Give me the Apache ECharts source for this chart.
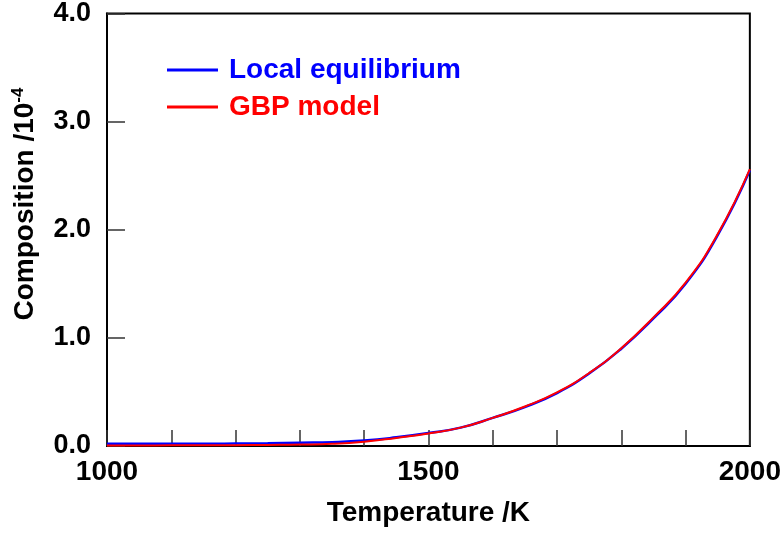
<!DOCTYPE html>
<html>
<head>
<meta charset="utf-8">
<script src="https://cdn.jsdelivr.net/npm/echarts@6/dist/echarts.min.js"></script>
<style>
  html, body { margin: 0; padding: 0; background: #fff; }
  #chart { width: 784px; height: 533px; }
</style>
</head>
<body>
<div id="chart"></div>
<script>
const temperatures = [1000, 1050, 1100, 1150, 1200, 1250, 1300, 1350, 1400, 1450, 1500,
  1550, 1600, 1650, 1700, 1750, 1800, 1850, 1900, 1950, 2000];
const localEquilibrium = [0.02, 0.02, 0.02, 0.02, 0.022, 0.025, 0.03, 0.035, 0.05, 0.08, 0.12,
  0.17, 0.26, 0.36, 0.49, 0.67, 0.9, 1.18, 1.5, 1.95, 2.55];
const gbpModel = [0.005, 0.005, 0.006, 0.007, 0.008, 0.01, 0.013, 0.02, 0.04, 0.075, 0.115,
  0.17, 0.26, 0.365, 0.495, 0.675, 0.905, 1.19, 1.51, 1.96, 2.56];
const xLabelTicks = [1000, 1500, 2000];

const font = "'Liberation Sans', Arial, sans-serif";
const chart = echarts.init(document.getElementById("chart"), null, { renderer: "canvas" });

const pairs = (ys) => temperatures.map((t, i) => [t, ys[i]]);

chart.setOption({
  animation: false,
  grid: {
    left: 107, top: 13, right: 30, bottom: 87,
    show: true, borderColor: "#000", borderWidth: 2
  },
  legend: {
    orient: "vertical",
    left: 162, top: 51,
    itemWidth: 51, itemHeight: 3, itemGap: 9,
    icon: "rect",
    textStyle: { fontFamily: font, fontWeight: "bold", fontSize: 28, lineHeight: 28, padding: [0, 0, 0, 6] },
    data: [
      { name: "Local equilibrium", textStyle: { color: "#0000ff" } },
      { name: "GBP model", textStyle: { color: "#ff0000" } }
    ]
  },
  xAxis: {
    type: "value",
    min: 1000, max: 2000, interval: 100,
    name: "Temperature /K",
    nameLocation: "middle", nameGap: 53,
    nameTextStyle: { fontFamily: font, fontWeight: "bold", fontSize: 28, color: "#000" },
    axisLine: { lineStyle: { color: "#000", width: 2 } },
    axisTick: { inside: true, length: 16, lineStyle: { color: "#333", width: 1.5 } },
    axisLabel: {
      margin: 12, fontFamily: font, fontWeight: "bold", fontSize: 28, color: "#000",
      formatter: (v) => (xLabelTicks.includes(v) ? String(v) : "")
    },
    splitLine: { show: false }
  },
  yAxis: {
    type: "value",
    min: 0, max: 4, interval: 1,
    axisLine: { show: true, lineStyle: { color: "#000", width: 2 } },
    axisTick: { show: true, inside: true, length: 18, lineStyle: { color: "#333", width: 1.5 } },
    axisLabel: {
      margin: 16, fontFamily: font, fontWeight: "bold", fontSize: 27, color: "#000",
      formatter: (v) => v.toFixed(1)
    },
    splitLine: { show: false }
  },
  graphic: [{
    type: "text",
    x: 25, y: 204,
    rotation: Math.PI / 2,
    style: {
      text: "{a|Composition /10}{s|-4}",
      align: "center", verticalAlign: "middle",
      fill: "#000",
      rich: {
        a: { fontFamily: font, fontWeight: "bold", fontSize: 28, fill: "#000" },
        s: { fontFamily: font, fontWeight: "bold", fontSize: 17, fill: "#000", padding: [0, 0, 14, 0] }
      }
    }
  }],
  series: [
    {
      name: "Local equilibrium", type: "line", smooth: true, showSymbol: false,
      color: "#0000ff", lineStyle: { width: 2.5, color: "#0000ff" },
      data: pairs(localEquilibrium)
    },
    {
      name: "GBP model", type: "line", smooth: true, showSymbol: false,
      color: "#ff0000", lineStyle: { width: 2, color: "#ff0000" },
      data: pairs(gbpModel)
    }
  ]
});
</script>
</body>
</html>
